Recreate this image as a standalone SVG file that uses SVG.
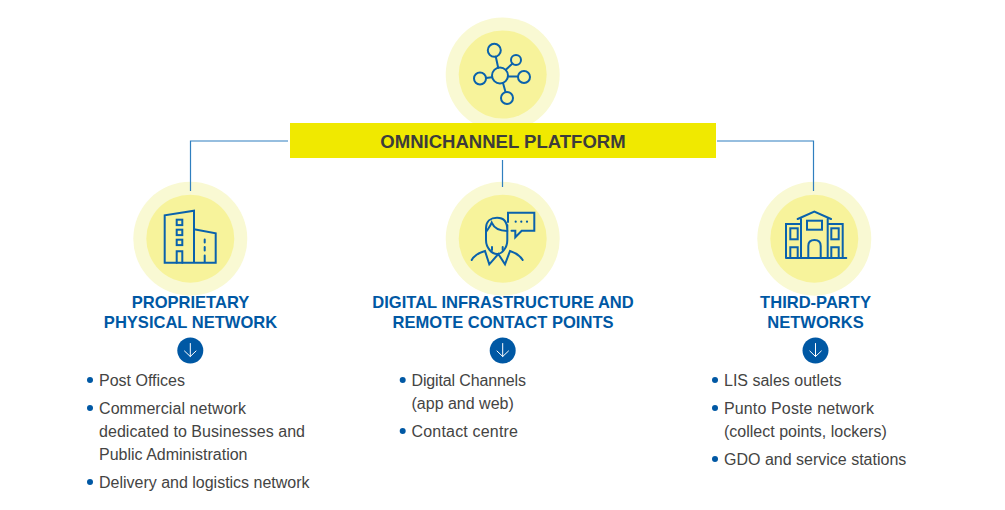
<svg xmlns="http://www.w3.org/2000/svg" width="1005" height="510" viewBox="0 0 1005 510">
<style>
.outer{fill:#f9f9d3}.inner{fill:#f7f39b}
.ic{fill:none;stroke:#0a62ac;stroke-width:2;stroke-linejoin:miter;stroke-linecap:round}
.conn{fill:none;stroke:#2f7fbf;stroke-width:1.200}
.h{font:bold 16.550px "Liberation Sans",Arial,sans-serif;fill:#0058a4;text-anchor:middle}
.t{font:16px "Liberation Sans",Arial,sans-serif;fill:#444443}
.d{fill:#0058a4}
.btn{fill:#0058a4}
.ar{fill:none;stroke:#fff;stroke-width:1;stroke-linecap:round;stroke-linejoin:round}
</style>
<rect width="1005" height="510" fill="#fff"/>
<g id="hub">
<circle class="outer" cx="502.700" cy="74.500" r="57"/>
<circle class="inner" cx="502.700" cy="74.500" r="44"/>
<g class="ic">
<circle cx="500" cy="75.500" r="8"/><circle cx="494.300" cy="50.300" r="6.500"/><circle cx="516" cy="60" r="5"/><circle cx="524" cy="77" r="6"/><circle cx="480" cy="78.500" r="6"/><circle cx="507" cy="98" r="6"/>
<path d="M498.200 67.700L495.800 56.700M505.800 69.800L512.500 63.500M508 76.500H518M492 77.200L486 78M503 83L505.500 92"/>
</g>
</g>
<g id="platform">
<rect x="290" y="123" width="426" height="35" fill="#f0e900"/>
<text x="503" y="147.500" text-anchor="middle" font-family="Liberation Sans, Arial, sans-serif" font-weight="bold" font-size="18.550" fill="#3c3c3b">OMNICHANNEL PLATFORM</text>
</g>
<g id="proprietary">
<circle class="outer" cx="190.300" cy="238.700" r="57"/>
<circle class="inner" cx="190.300" cy="238.700" r="44"/>
<g class="ic">
<path d="M164.700 262.700V215.300L194 210.700V262.700ZM194 229.300L215.700 233.300V262.700H194"/>
<rect x="176.700" y="219.700" width="5.600" height="5.400"/><rect x="176.700" y="229.700" width="5.600" height="5.400"/><rect x="176.700" y="239.700" width="5.600" height="5.400"/>
<path d="M176.700 262.700V251.300H182.300V262.700"/>
<path d="M204.700 239.500V242.500M204.700 247V250.500M204.700 255.500V262"/>
</g>
<text class="h" x="190.500" y="307.500">PROPRIETARY</text>
<text class="h" x="190.500" y="327.500">PHYSICAL NETWORK</text>
<circle class="btn" cx="190.300" cy="350.500" r="13"/>
<path class="ar" d="M190.300 343.500V356.500M184.500 351L190.300 356.500L196 351"/>
<circle class="d" cx="90" cy="380" r="3"/><text class="t" x="99" y="385.500">Post Offices</text>
<circle class="d" cx="90" cy="408" r="3"/><text class="t" x="99" y="413.500" textLength="147">Commercial network</text>
<text class="t" x="99" y="436.500" textLength="206">dedicated to Businesses and</text>
<text class="t" x="99" y="459.500">Public Administration</text>
<circle class="d" cx="90" cy="482" r="3"/><text class="t" x="99" y="487.500" textLength="210.500">Delivery and logistics network</text>
</g>
<g id="digital">
<circle class="outer" cx="502.700" cy="238.700" r="57"/>
<circle class="inner" cx="502.700" cy="238.700" r="44"/>
<g class="ic">
<path d="M508 222V212.700H534.300V230.700H521.700L515.300 237.300V230.700H511.500"/>
<path d="M507.300 225V240C507.300 248 502 254 497 254C492 254 486 248 486 240V228C486 221 491 217.700 497 217.700C503 217.700 507.300 221 507.300 230"/>
<path d="M507.300 231C500 231 494 228 491.700 222.700C490 227 488 229 486 232"/>
<path d="M492 247V250M502.700 247V250"/>
<path d="M471.700 260Q475 254 485 251L489.300 264.300L498.300 254L505 264.300L510 251Q519 254 522.700 260"/>
</g>
<circle class="d" cx="515.700" cy="221.700" r="1.100"/><circle class="d" cx="521.300" cy="221.700" r="1.100"/><circle class="d" cx="527" cy="221.700" r="1.100"/>
<text class="h" x="503" y="307.500">DIGITAL INFRASTRUCTURE AND</text>
<text class="h" x="503" y="327.500">REMOTE CONTACT POINTS</text>
<circle class="btn" cx="502.700" cy="350.500" r="13"/>
<path class="ar" d="M502.700 343.500V356.500M497 351L502.700 356.500L508.500 351"/>
<circle class="d" cx="402.700" cy="380" r="3"/><text class="t" x="411.500" y="385.500" textLength="114.500">Digital Channels</text>
<text class="t" x="411.500" y="408.500">(app and web)</text>
<circle class="d" cx="402.700" cy="431" r="3"/><text class="t" x="411.500" y="436.500" textLength="106.500">Contact centre</text>
</g>
<g id="third-party">
<circle class="outer" cx="814.300" cy="238.700" r="57"/>
<circle class="inner" cx="814.300" cy="238.700" r="44"/>
<g class="ic">
<path d="M797.700 219L814.300 211.700L831 219M801 219V258M827.700 219V258M801 224H786V258M827.700 224H842.700V258M786 258H846.300"/>
<rect x="807" y="220.700" width="15" height="9"/>
<path d="M808.300 258V246C808.300 242 811 240 814.500 240C818 240 820.700 242 820.700 246V258"/>
<rect x="790.300" y="228.300" width="7.400" height="11"/><rect x="831.300" y="228.300" width="7.400" height="11"/>
<path d="M790.300 258V247.300H797.700V258M831.300 258V247.300H838.700V258"/>
</g>
<text class="h" x="815.500" y="307.500">THIRD-PARTY</text>
<text class="h" x="815.500" y="327.500">NETWORKS</text>
<circle class="btn" cx="815.500" cy="350.500" r="13"/>
<path class="ar" d="M815.500 343.500V356.500M809.800 351L815.500 356.500L821.300 351"/>
<circle class="d" cx="715" cy="380" r="3"/><text class="t" x="724" y="385.500">LIS sales outlets</text>
<circle class="d" cx="715" cy="408" r="3"/><text class="t" x="724" y="413.500" textLength="150">Punto Poste network</text>
<text class="t" x="724" y="436.500">(collect points, lockers)</text>
<circle class="d" cx="715" cy="459" r="3"/><text class="t" x="724" y="464.500">GDO and service stations</text>
</g>
<g id="connectors">
<path class="conn" d="M288 141H190.500V191"/>
<path class="conn" d="M502.500 160V187"/>
<path class="conn" d="M717 141H813.500V191"/>
</g>
</svg>
